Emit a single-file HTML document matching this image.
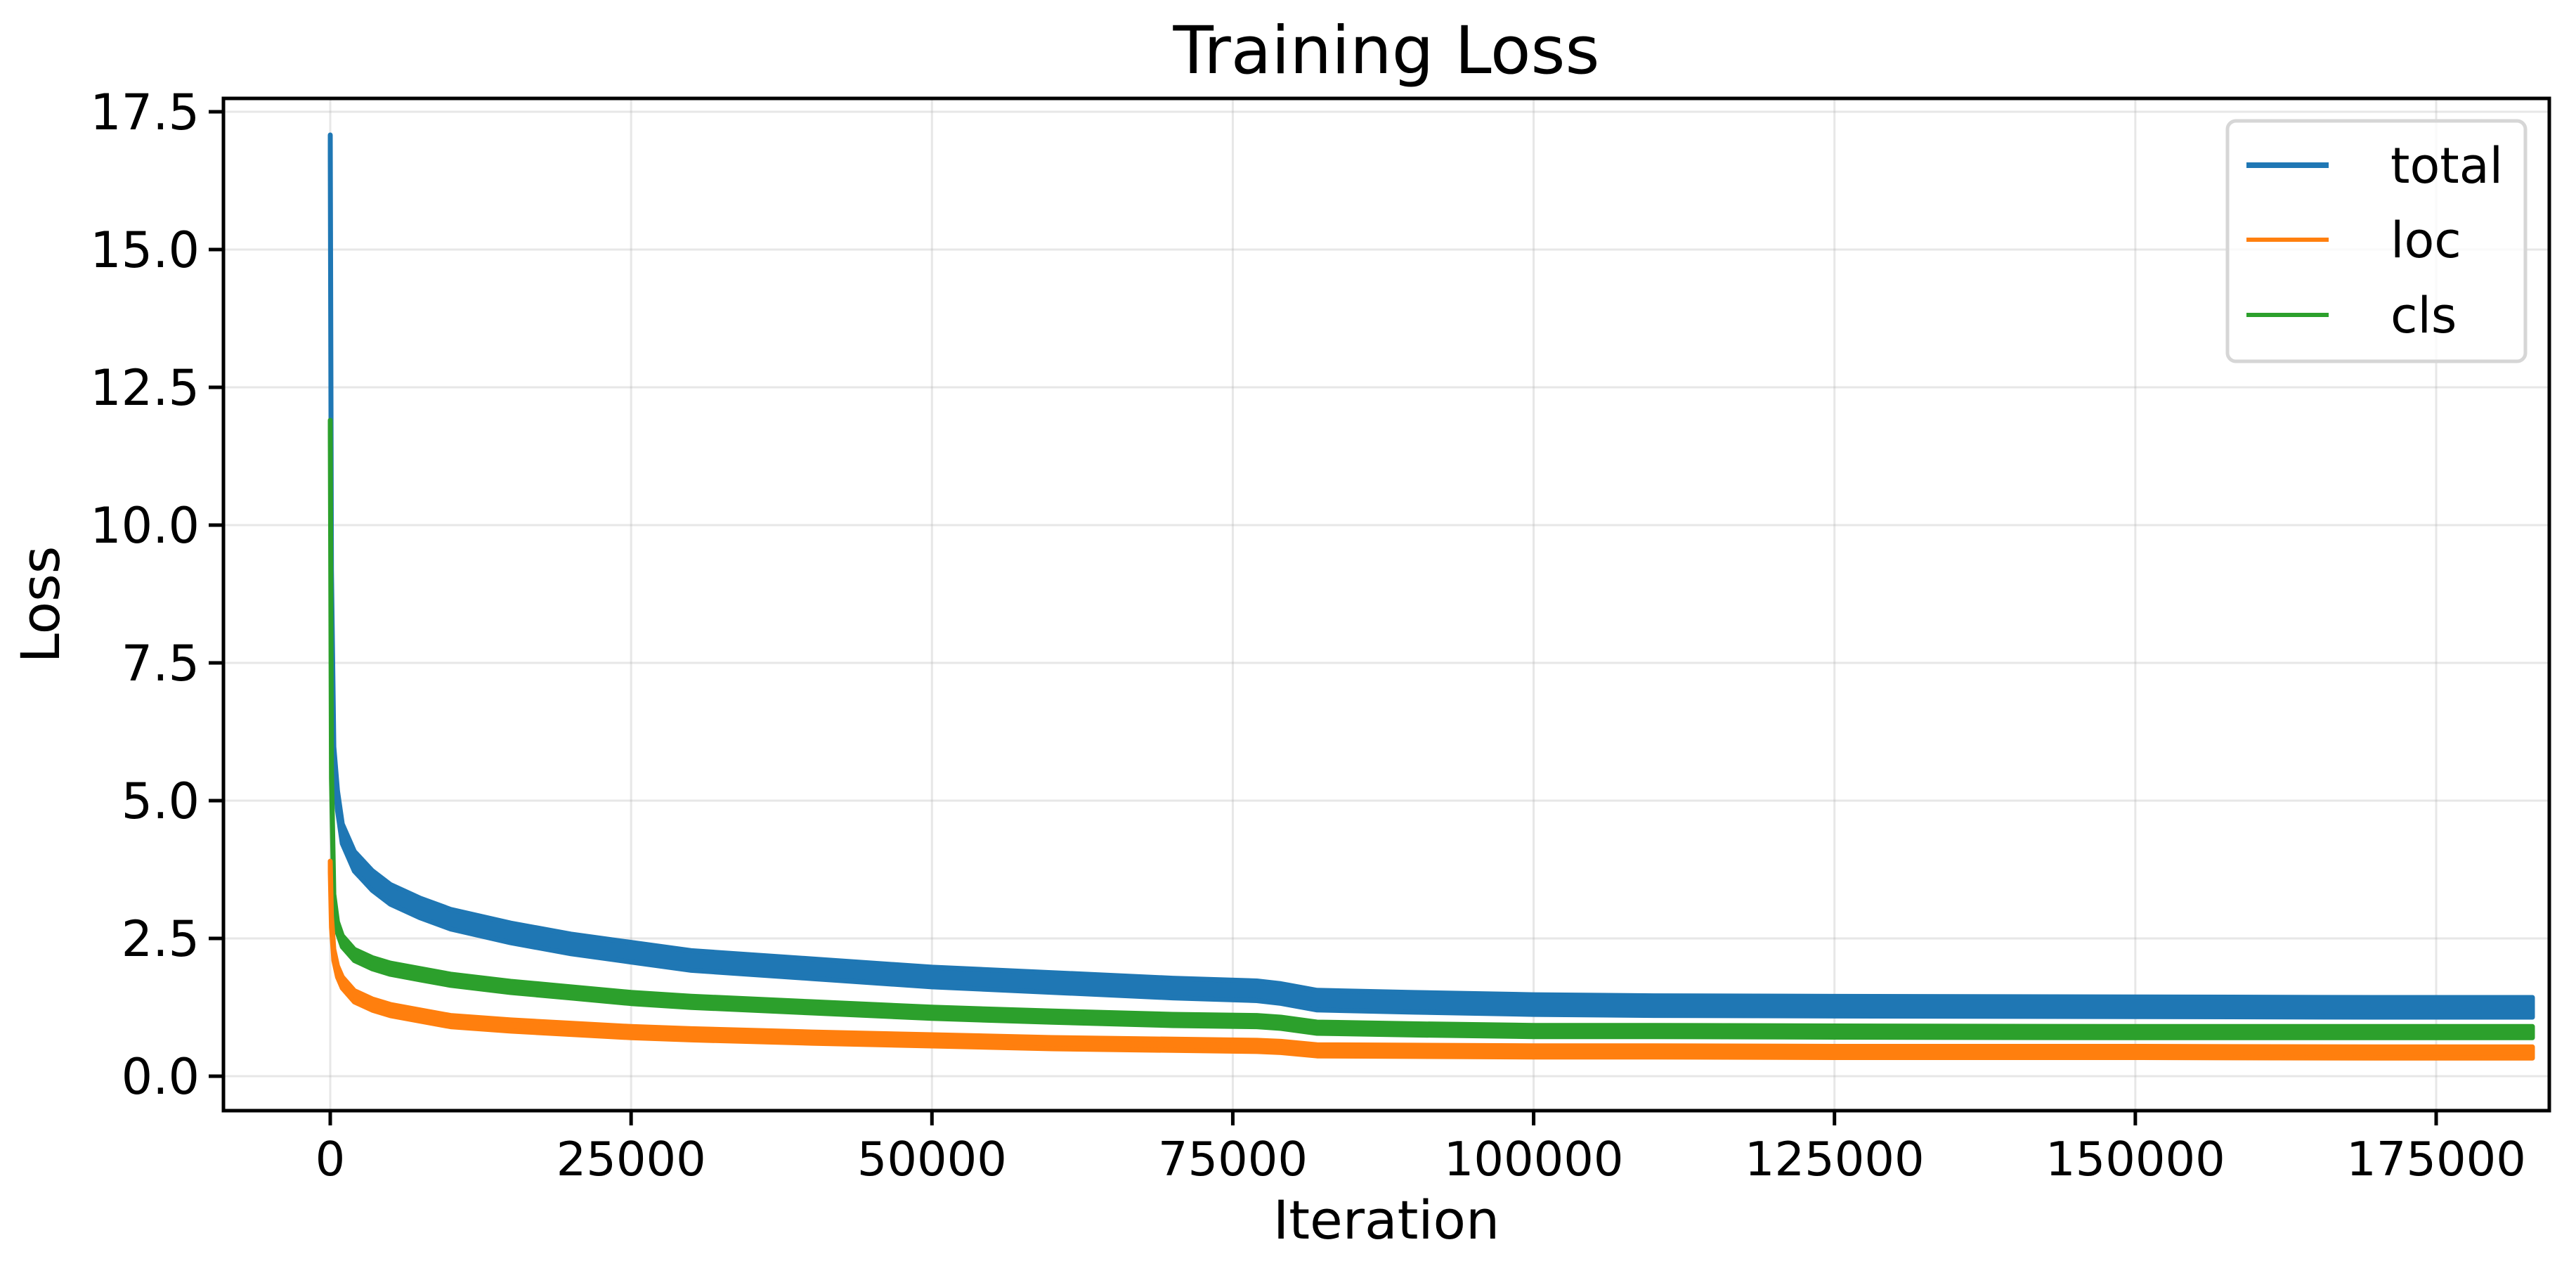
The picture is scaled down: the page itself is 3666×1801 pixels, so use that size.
<!DOCTYPE html>
<html><head><meta charset="utf-8"><style>
html,body{margin:0;padding:0;background:#fff;}
svg{display:block;font-family:"DejaVu Sans","Liberation Sans",sans-serif;}
</style></head><body>
<svg id="chart" width="3666" height="1801" viewBox="0 0 3666 1801">
<rect width="3666" height="1801" fill="#fff"/>
<g id="grid"></g>
<g id="series"></g>
<g id="axes"></g>
<text x="1973" y="104" font-size="94" text-anchor="middle">Training Loss</text>
<text x="1973" y="1762" font-size="76" text-anchor="middle">Iteration</text>
<text x="0" y="0" font-size="76" text-anchor="middle" transform="translate(84,860) rotate(-90)">Loss</text>
<g>
<rect x="3170" y="172" width="424" height="342" rx="12" fill="#fff" fill-opacity="0.8" stroke="#d6d6d6" stroke-width="5"/>
<line x1="3197" y1="235" x2="3314" y2="235" stroke="#1f77b4" stroke-width="8"/>
<text x="3402" y="260" font-size="70">total</text>
<line x1="3197" y1="341" x2="3314" y2="341" stroke="#ff7f0e" stroke-width="6"/>
<text x="3402" y="366" font-size="70">loc</text>
<line x1="3197" y1="448" x2="3314" y2="448" stroke="#2ca02c" stroke-width="6"/>
<text x="3402" y="473" font-size="70">cls</text>
</g>
</svg>
<script>
const xTicks = [0,25000,50000,75000,100000,125000,150000,175000];
const yTicks = [0,2.5,5,7.5,10,12.5,15,17.5];
const iters = [0,100,300,600,1000,2000,3500,5000,7500,10000,15000,20000,25000,30000,40000,50000,60000,70000,77000,79000,82000,90000,100000,110000,125000,150000,170000,183000];
const totalVals = [16.9,9.0,5.8,5.0,4.4,3.9,3.55,3.3,3.05,2.85,2.6,2.4,2.25,2.1,1.95,1.8,1.7,1.6,1.55,1.5,1.38,1.34,1.3,1.28,1.27,1.26,1.25,1.25];
const locVals = [3.8,2.8,2.2,1.9,1.7,1.45,1.3,1.2,1.1,1.0,0.92,0.86,0.8,0.76,0.7,0.65,0.6,0.57,0.55,0.53,0.47,0.46,0.45,0.45,0.44,0.44,0.43,0.43];
const clsVals = [11.8,5.5,3.2,2.7,2.45,2.2,2.05,1.95,1.85,1.75,1.62,1.52,1.42,1.35,1.25,1.15,1.08,1.02,1.0,0.97,0.88,0.85,0.82,0.82,0.81,0.8,0.8,0.8];
const L=318,R=3628,T=140,B=1580;
const X=v=>470+v*(3467-470)/175000;
const Y=v=>1531-v*78.4;
const NS="http://www.w3.org/2000/svg";
const grid=document.getElementById('grid'),axes=document.getElementById('axes'),series=document.getElementById('series');
function mk(tag,attrs,parent){const e=document.createElementNS(NS,tag);for(const k in attrs)e.setAttribute(k,attrs[k]);parent.appendChild(e);return e;}
xTicks.forEach(t=>{
  const g=mk('line',{x1:X(t),x2:X(t),y1:T,y2:B,stroke:'#b0b0b0','stroke-opacity':0.3,'stroke-width':3},grid);
  
  
  const tk=mk('line',{x1:X(t),x2:X(t),y1:B,y2:B+21,stroke:'#000','stroke-width':5},axes);
  
  
  const tx=mk('text',{x:X(t),y:B+92,'font-size':67,'text-anchor':'middle'},axes);
  tx.textContent=String(t);
  
  
});
yTicks.forEach(t=>{
  const g=mk('line',{x1:L,x2:R,y1:Y(t),y2:Y(t),stroke:'#b0b0b0','stroke-opacity':0.3,'stroke-width':3},grid);
  
  
  const tk=mk('line',{x1:L-21,x2:L,y1:Y(t),y2:Y(t),stroke:'#000','stroke-width':5},axes);
  
  
  const tx=mk('text',{x:L-34,y:Y(t)+25,'font-size':70,'text-anchor':'end'},axes);
  tx.textContent=t.toFixed(1);
  
  
});
const fr=mk('rect',{x:L,y:T,width:R-L,height:B-T,fill:'none',stroke:'#000','stroke-width':5},axes);


function draw(vals,color,h,name){
  const up=iters.map((it,i)=>X(it).toFixed(1)+','+(Y(vals[i])-h/2).toFixed(1));
  const lo=iters.map((it,i)=>X(it).toFixed(1)+','+(Y(vals[i])+h/2).toFixed(1)).reverse();
  const p=mk('polygon',{points:up.concat(lo).join(' '),fill:color,stroke:color,'stroke-width':7,'stroke-linejoin':'round'},series);
  
  
}
draw(totalVals,'#1f77b4',28,'line-total');
draw(clsVals,'#2ca02c',16,'line-cls');
draw(locVals,'#ff7f0e',16,'line-loc');
</script>
</body></html>
